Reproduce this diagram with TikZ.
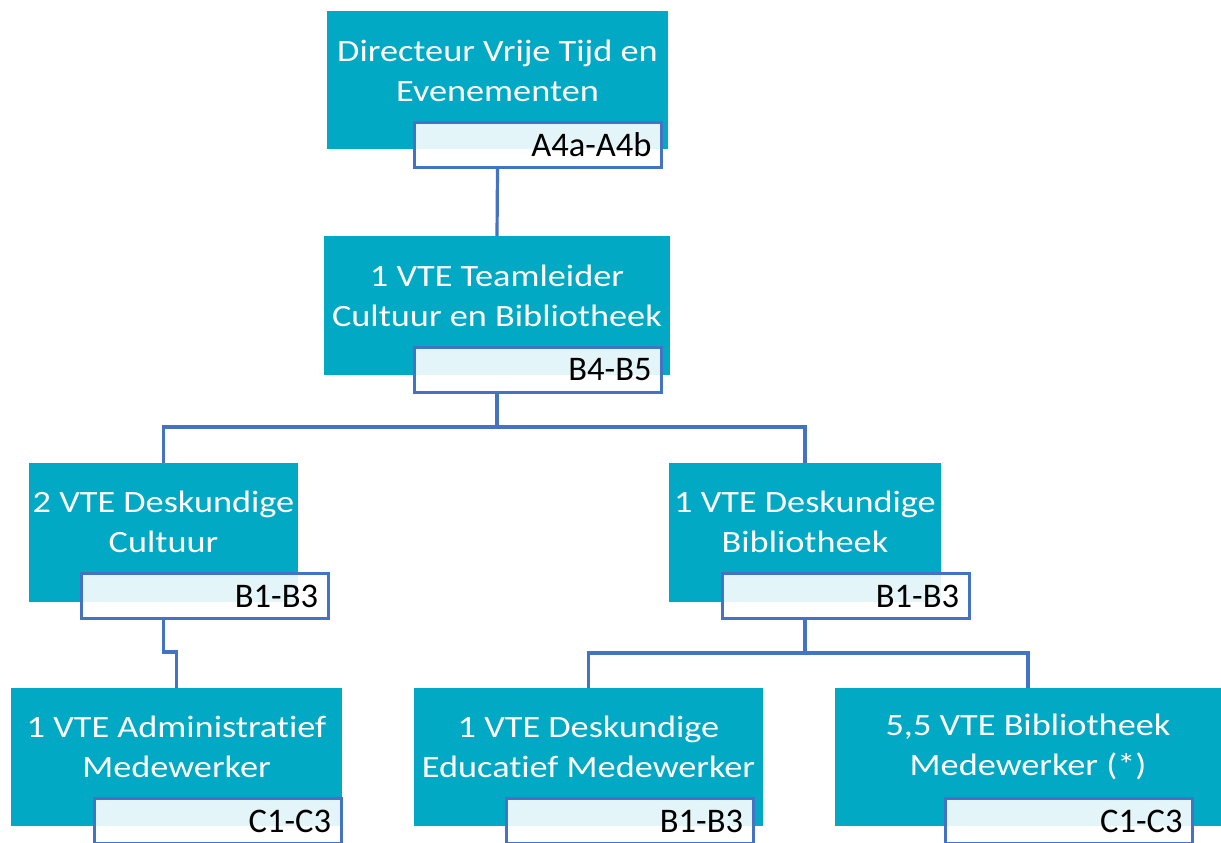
\documentclass[tikz,border=0pt]{standalone}
\usepackage{fontspec}
\setmainfont{Carlito}
\newfontfamily\titlefont{Carlito}[FakeStretch=1.17,Ligatures=NoCommon]
\definecolor{tealbox}{RGB}{2,169,196}
\definecolor{lineblue}{RGB}{68,114,196}
\begin{document}
\begin{tikzpicture}[x=1pt,y=-1pt,
  teal/.style={rectangle,fill=tealbox,draw=none,inner sep=0pt},
  title/.style={align=center,text=white,font=\titlefont\fontsize{31}{40}\selectfont,inner sep=0pt},
  grade/.style={rectangle,draw=lineblue,line width=3pt,fill=white,fill opacity=0.89,text opacity=1,
     minimum width=247,minimum height=45,text width=227,align=right,inner sep=0pt,
     font=\fontsize{34.5}{36}\selectfont,text=black},
  conn/.style={draw=lineblue,line width=3.2pt}]
\useasboundingbox (0,0) rectangle (1221,843);
% boxes
\node[teal,minimum width=341,minimum height=138] (d) at (497.5,80) {};
\node[teal,minimum width=346,minimum height=139] (t) at (497,305.5) {};
\node[teal,minimum width=269,minimum height=139] (c) at (163.5,532.5) {};
\node[teal,minimum width=272,minimum height=139] (b) at (805,532.5) {};
\node[teal,minimum width=331,minimum height=138] (a) at (176.5,757) {};
\node[teal,minimum width=349,minimum height=138] (e) at (588.5,757) {};
\node[teal,minimum width=387,minimum height=138] (m) at (1028,757) {};
% grade labels
\node[grade] (l1) at (538,145) {A4a-A4b};
\node[grade] (l2) at (538,370) {B4-B5};
\node[grade] (l3) at (204.5,596) {B1-B3};
\node[grade] (l4) at (845.5,596) {B1-B3};
\node[grade] (l5) at (217.5,821) {C1-C3};
\node[grade] (l6) at (629.5,821) {B1-B3};
\node[grade] (l7) at (1069,821) {C1-C3};
% connectors
\draw[conn] (d |- l1.south) -- (t.north);
\draw[conn] (t |- l2.south) -- (t |- 0,427) -| (c.north);
\draw[conn] (t |- 0,427) -| (b.north);
\draw[conn] (c |- l3.south) -- (c |- 0,652) -| (a.north);
\draw[conn] (b |- l4.south) -- (b |- 0,653) -| (e.north);
\draw[conn] (b |- 0,653) -| (m.north);
% titles
\node[title] (dt) at (497.5,71) {Directeur Vrije Tijd en\\Evenementen};
\node[title] (tt) at (497,296) {1 VTE Teamleider\\Cultuur en Bibliotheek};
\node[title] (ct) at (163.5,522) {2 VTE Deskundige\\Cultuur};
\node[title] (bt) at (805,522) {1 VTE Deskundige\\Bibliotheek};
\node[title] (at) at (176.5,747) {1 VTE Administratief\\Medewerker};
\node[title] (et) at (588.5,747) {1 VTE Deskundige\\Educatief Medewerker};
\node[title] (mt) at (1028,747) {5,5 VTE Bibliotheek\\Medewerker (*)};
\end{tikzpicture}
\end{document}
